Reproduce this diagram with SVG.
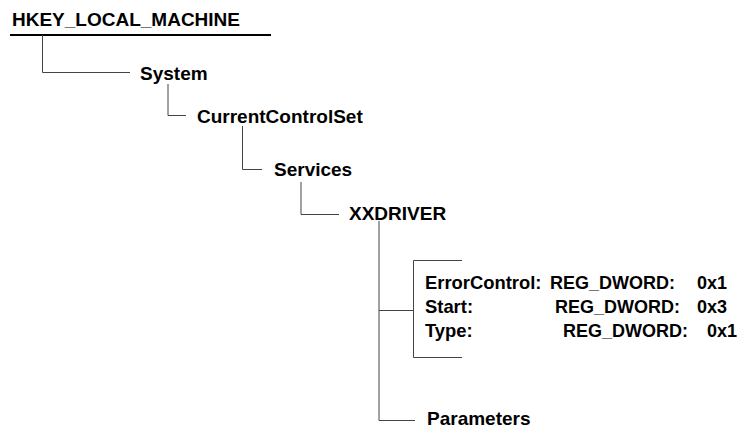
<svg xmlns="http://www.w3.org/2000/svg" width="739" height="430" viewBox="0 0 739 430">
<style>
text{font-family:"Liberation Sans",Arial,Helvetica,sans-serif;font-weight:bold;font-size:19px;fill:#000}
.k{font-size:18.4px}
.v{font-size:18px}
.c{fill:none;stroke:#444;stroke-width:1}
.u{fill:none;stroke:#000;stroke-width:2}
</style>
<rect width="739" height="430" fill="#fff"/>
<g id="connectors">
<path class="u" d="M10 35H271"/>
<path class="c" d="M42.5 35V72.5H130"/>
<path class="c" d="M168 84V115.5H186"/>
<path class="c" d="M242.5 126V169.5H262"/>
<path class="c" d="M301 182V214.5H339"/>
<path class="c" d="M379 221V420.5H415"/>
<path class="c" d="M379 310.5H413.5"/>
<path class="c" d="M462 260.5H413.5V357.5H462"/>
</g>
<g id="hklm"><text x="12" y="26">HKEY_LOCAL_MACHINE</text></g>
<g id="system"><text x="140" y="80">System</text></g>
<g id="ccs"><text x="197" y="123">CurrentControlSet</text></g>
<g id="services"><text x="274" y="176">Services</text></g>
<g id="xxdriver"><text x="349" y="220">XXDRIVER</text></g>
<g id="values">
<text y="289"><tspan class="k" x="425">ErrorControl:</tspan><tspan class="v" x="550">REG_DWORD:</tspan><tspan class="v" x="727" text-anchor="end">0x1</tspan></text>
<text y="313"><tspan class="k" x="425">Start:</tspan><tspan class="v" x="555">REG_DWORD:</tspan><tspan class="v" x="727" text-anchor="end">0x3</tspan></text>
<text y="337"><tspan class="k" x="425">Type:</tspan><tspan class="v" x="563">REG_DWORD:</tspan><tspan class="v" x="737" text-anchor="end">0x1</tspan></text>
</g>
<g id="parameters"><text x="427" y="425">Parameters</text></g>
</svg>
